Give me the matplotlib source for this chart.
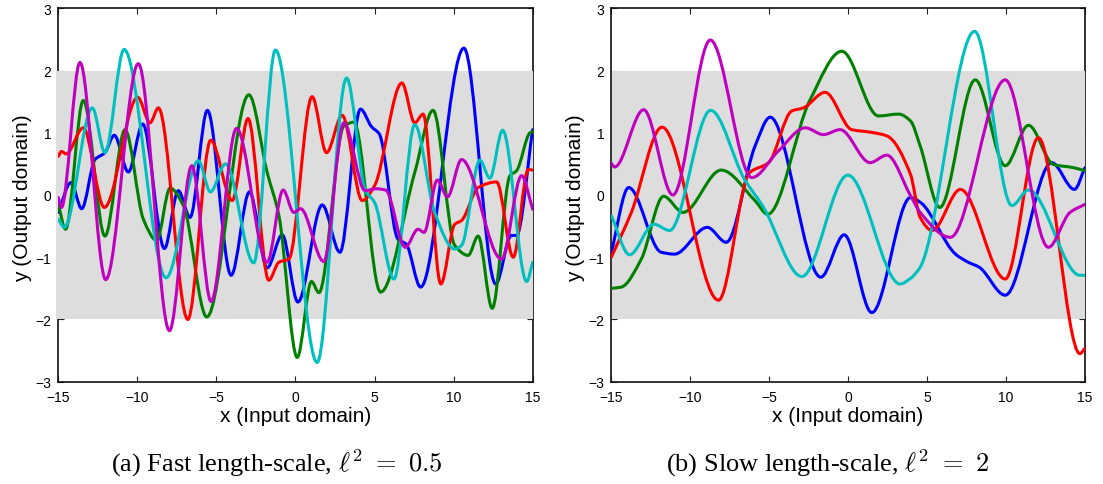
import numpy as np
import matplotlib
matplotlib.use("Agg")
import matplotlib.pyplot as plt
from matplotlib.path import Path
from matplotlib.patches import PathPatch

# ---------------- data ----------------
# Panel (a): fast length-scale
fast_blue_x = [-15, -14.2, -13.52, -12.68, -12.05, -11.46, -10.57, -9.66, -8.29, -7.41, -6.67, -5.57,
               -4.07, -2.91, -1.79, -0.84, 0.15, 1.69, 2.81, 4.11, 4.8, 5.3, 6.48, 7.0, 7.91, 10.65,
               12.66, 13.65, 13.97, 15]
fast_blue_y = [-0.28, 0.2, -0.22, 0.57, 0.68, 0.96, 0.37, 1.14, -0.86, 0.07, -0.36, 1.36,
               -1.29, 0.05, -1.17, -0.64, -1.72, -0.16, -0.92, 1.38, 1.1, 0.98, -0.71, -0.79, -1.48, 2.36,
               -1.43, -0.65, -0.65, 1.05]

fast_red_x = [-15, -14.8, -14.5, -13.42, -12.09, -9.98, -9.2, -8.67, -6.81, -5.36, -4.0, -3.0, -1.69,
              -1.05, -0.42, 1.05, 1.96, 2.95, 4.22, 5.0, 6.73, 7.54, 8.07, 9.19, 10.07, 10.5, 11.55,
              12.72, 13.77, 14.72, 15]
fast_red_y = [0.62, 0.70, 0.66, 1.08, -0.2, 1.57, 1.16, 1.40, -2.0, 0.88, -0.09, 1.23, -1.37,
              -1.08, -1.03, 1.58, 0.68, 1.28, -0.09, 0.15, 1.80, 1.16, 1.30, -1.43, -0.47, -0.41, 0.12,
              0.21, -1.0, 0.41, 0.40]

fast_green_x = [-15, -14.54, -13.42, -12.05, -10.78, -9.62, -8.78, -7.93, -7.09, -5.61, -2.95, -1.79,
                -1.05, 0.11, 1.01, 1.48, 3.06, 3.69, 5.38, 7.54, 8.7, 10.07, 10.92, 11.55, 12.44, 13.56,
                13.98, 14.83, 15]
fast_green_y = [-0.15, -0.55, 1.52, -0.66, 1.05, -0.39, -0.73, 0.11, -0.17, -1.96, 1.61, 0.36,
                -0.33, -2.61, -1.39, -1.57, 1.11, 1.17, -1.56, 0.36, 1.36, -0.81, -0.97, -0.66, -1.82, 0.31,
                0.39, 1.0, 1.02]

fast_cyan_x = [-15, -14.62, -12.85, -12.05, -10.84, -8.19, -6.14, -5.38, -4.43, -2.64, -1.27, 1.37,
               3.23, 4.43, 5.0, 6.23, 7.54, 8.8, 10.07, 10.5, 11.66, 12.29, 13.1, 14.62, 15]
fast_cyan_y = [-0.39, -0.52, 1.40, 0.68, 2.34, -1.33, 0.55, 0.05, 0.5, -1.09, 2.33, -2.69,
               1.88, 0.07, -0.12, -1.35, 1.13, -0.28, -0.87, -0.81, 0.56, 0.27, 1.04, -1.39, -1.08]

fast_magenta_x = [-15, -14.8, -13.63, -12.0, -9.94, -7.97, -6.56, -5.34, -3.73, -1.79, -0.78, -0.11,
                  0.32, 1.79, 3.06, 4.4, 5.1, 5.7, 6.94, 7.75, 8.13, 8.97, 9.61, 10.5, 13.03, 14.3, 15]
fast_magenta_y = [-0.04, -0.2, 2.13, -1.36, 2.11, -2.18, 0.47, -1.71, 1.07, -1.08, 0.08, -0.28,
                  -0.22, -1.07, 1.16, 0.07, 0.10, 0.08, -0.84, -0.55, -0.6, 0.24, -0.03, 0.57, -1.03, 0.31, -0.23]

# Panel (b): slow length-scale
slow_blue_x = [-15, -13.9, -11.84, -11.0, -8.92, -7.72, -5.89, -4.94, -1.73, -0.25, 1.5, 3.95,
               4.58, 6.8, 7.6, 8.3, 9.95, 12.89, 14.33, 15]
slow_blue_y = [-0.92, 0.12, -0.92, -0.95, -0.52, -0.76, 0.79, 1.25, -1.32, -0.64, -1.89, -0.04,
               -0.12, -0.95, -1.08, -1.16, -1.61, 0.52, 0.09, 0.44]

slow_red_x = [-15, -13.73, -11.79, -8.21, -6.24, -5.04, -3.57, -2.83, -1.46, 0.23, 1.39, 2.45, 3.95,
              4.56, 5.32, 7.11, 9.95, 12.05, 14.68, 15]
slow_red_y = [-1.0, -0.28, 1.09, -1.69, 0.36, 0.52, 1.35, 1.40, 1.65, 1.05, 1.01, 0.95, 0.33,
              -0.36, -0.57, 0.09, -1.35, 0.92, -2.55, -2.46]

slow_green_x = [-15, -14.37, -13.1, -11.69, -10.46, -8.04, -5.9, -5.1, -2.41, -0.4, 1.92, 3.19, 3.95,
                4.56, 5.8, 8.05, 9.95, 11.42, 13.0, 14.26, 15]
slow_green_y = [-1.5, -1.48, -1.03, -0.02, -0.28, 0.40, -0.09, -0.31, 1.53, 2.31, 1.27, 1.30, 1.19,
                0.79, -0.2, 1.85, 0.47, 1.12, 0.49, 0.44, 0.39]

slow_cyan_x = [-15, -13.84, -12.3, -11.31, -8.71, -6.56, -5.4, -2.93, -0.02, 3.29, 3.95, 4.56, 8.01,
               10.37, 11.42, 14.68, 15]
slow_cyan_y = [-0.33, -0.96, -0.47, -0.57, 1.36, 0.25, -0.18, -1.31, 0.32, -1.43, -1.34, -1.16, 2.63,
               -0.17, 0.08, -1.29, -1.29]

slow_magenta_x = [-15, -14.79, -12.95, -11.1, -8.73, -6.1, -4.41, -2.72, -1.56, -0.51, 1.39, 2.45,
                  3.95, 4.56, 6.47, 9.95, 12.68, 14.05, 15]
slow_magenta_y = [0.51, 0.45, 1.37, 0.0, 2.49, 0.28, 0.71, 1.08, 0.97, 1.05, 0.52, 0.64,
                  -0.01, -0.28, -0.68, 1.85, -0.84, -0.28, -0.15]

x_ticks = [-15, -10, -5, 0, 5, 10, 15]
y_ticks = [-3, -2, -1, 0, 1, 2, 3]
band_lo, band_hi = -2, 2
x_label = "x (Input domain)"
y_label = "y (Output domain)"
caption_a = r"(a) Fast length-scale, $\ell^2\ =\ 0.5$"
caption_b = r"(b) Slow length-scale, $\ell^2\ =\ 2$"

# ---------------- styling ----------------
plt.rcParams['font.family'] = ['Liberation Sans', 'DejaVu Sans']
plt.rcParams['mathtext.fontset'] = 'cm'

COLORS = {'b': (0, 0, 1), 'g': (0, 0.5, 0), 'r': (1, 0, 0),
          'c': (0, 0.75, 0.75), 'm': (0.75, 0, 0.75)}
LW = 2.2


def smooth_path(xs, ys):
    """Monotone cubic (Fritsch-Carlson) Bezier path through the read points."""
    x = np.asarray(xs, float)
    y = np.asarray(ys, float)
    h = np.diff(x)
    d = np.diff(y) / h
    m = np.zeros_like(y)
    m[0], m[-1] = d[0], d[-1]
    for k in range(1, len(x) - 1):
        if d[k - 1] * d[k] <= 0:
            m[k] = 0.0
        else:
            w1 = 2 * h[k] + h[k - 1]
            w2 = h[k] + 2 * h[k - 1]
            m[k] = (w1 + w2) / (w1 / d[k - 1] + w2 / d[k])
    verts = [(x[0], y[0])]
    codes = [Path.MOVETO]
    for k in range(len(x) - 1):
        verts += [(x[k] + h[k] / 3, y[k] + m[k] * h[k] / 3),
                  (x[k + 1] - h[k] / 3, y[k + 1] - m[k + 1] * h[k] / 3),
                  (x[k + 1], y[k + 1])]
        codes += [Path.CURVE4] * 3
    return Path(verts, codes)


fig = plt.figure(figsize=(11.03, 4.85), dpi=100)
W, H = 1103.0, 485.0
ax_a = fig.add_axes([58.3 / W, 1 - 382.7 / H, 474.4 / W, 373.4 / H])
ax_b = fig.add_axes([611.3 / W, 1 - 382.7 / H, 473.7 / W, 373.4 / H])

panels = [
    (ax_a, [(fast_blue_x, fast_blue_y, 'b'), (fast_green_x, fast_green_y, 'g'),
            (fast_red_x, fast_red_y, 'r'), (fast_cyan_x, fast_cyan_y, 'c'),
            (fast_magenta_x, fast_magenta_y, 'm')], -15.15),
    (ax_b, [(slow_blue_x, slow_blue_y, 'b'), (slow_green_x, slow_green_y, 'g'),
            (slow_red_x, slow_red_y, 'r'), (slow_cyan_x, slow_cyan_y, 'c'),
            (slow_magenta_x, slow_magenta_y, 'm')], -14.93),
]

for ax, series, band_left in panels:
    ax.set_xlim(-15, 15)
    ax.set_ylim(-3, 3)
    ax.fill_between([band_left, 15.0], band_lo, band_hi, color='#dddddd', lw=0,
                    zorder=2.7, clip_on=False)
    for xs, ys, c in series:
        p = PathPatch(smooth_path(xs, ys), fill=False, edgecolor=COLORS[c], lw=LW,
                      zorder=3, capstyle='round', joinstyle='round')
        ax.add_patch(p)
    ax.set_xticks(x_ticks)
    ax.set_yticks(y_ticks)
    ax.tick_params(direction='in', top=True, right=True, length=4, width=0.8,
                   labelsize=10, color='#222222')
    ax.tick_params(axis='x', pad=6)
    ax.tick_params(axis='y', pad=5)
    for s in ax.spines.values():
        s.set_linewidth(1.2)
        s.set_color('#111111')

for ax, cx in [(ax_a, 295.5), (ax_b, 848.0)]:
    fig.text(cx / W, 1 - 417 / H, x_label, ha='center', va='center', fontsize=15)

fig.text(23 / W, 1 - 198 / H, y_label, ha='center', va='center', rotation=90, fontsize=15)
fig.text(576 / W, 1 - 198 / H, y_label, ha='center', va='center', rotation=90, fontsize=15)

fig.text(277 / W, 1 - 463 / H, caption_a, ha='center', va='center', fontsize=19,
         family='Liberation Serif')
fig.text(827 / W, 1 - 463 / H, caption_b, ha='center', va='center', fontsize=19,
         family='Liberation Serif')

fig.savefig('out.png', dpi=100)
